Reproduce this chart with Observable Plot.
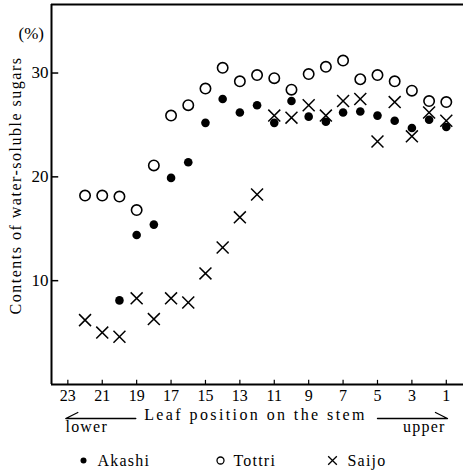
<!DOCTYPE html>
<html>
<head>
<meta charset="utf-8">
<script src="https://cdn.jsdelivr.net/npm/d3@7"></script>
<script src="https://cdn.jsdelivr.net/npm/@observablehq/plot@0.6"></script>
<style>
  html, body { margin: 0; padding: 0; background: #fff; }
</style>
</head>
<body>
<div id="chart"></div>
<script>
// Leaf positions (numbered from the top of the stem)
const leaves = [22, 21, 20, 19, 18, 17, 16, 15, 14, 13, 12, 11, 10, 9, 8, 7, 6, 5, 4, 3, 2, 1];
const akashiLeaves = [20, 19, 18, 17, 16, 15, 14, 13, 12, 11, 10, 9, 8, 7, 6, 5, 4, 3, 2, 1];

// Contents of water-soluble sugars (%)
const akashi = [8.1, 14.4, 15.4, 19.9, 21.4, 25.2, 27.5, 26.2, 26.9, 25.2, 27.3, 25.8, 25.3, 26.2, 26.3, 25.9, 25.4, 24.7, 25.5, 24.8];
const tottri = [18.2, 18.2, 18.1, 16.8, 21.1, 25.9, 26.9, 28.5, 30.5, 29.2, 29.8, 29.5, 28.4, 29.9, 30.6, 31.2, 29.4, 29.8, 29.2, 28.3, 27.3, 27.2];
const saijo = [6.2, 5.0, 4.6, 8.3, 6.3, 8.3, 7.9, 10.7, 13.2, 16.1, 18.3, 25.9, 25.7, 26.9, 25.9, 27.3, 27.5, 23.4, 27.2, 23.9, 26.2, 25.4];

// Tick labels
const xTicks = [23, 21, 19, 17, 15, 13, 11, 9, 7, 5, 3, 1];
const yTicks = [10, 20, 30];

// Axis texts
const yLabel = "Contents of water-soluble sugars";
const yUnit = "(%)";
const xLabel = "Leaf position on the stem";
const lowerLabel = "lower";
const upperLabel = "upper";
const seriesNames = ["Akashi", "Tottri", "Saijo"];

const xDomain = [23.95, 0];
const yDomain = [0, 36.6];

const akashiData = akashiLeaves.map((l, i) => ({leaf: l, value: akashi[i]}));
const tottriData = leaves.map((l, i) => ({leaf: l, value: tottri[i]}));
const saijoData = leaves.map((l, i) => ({leaf: l, value: saijo[i]}));

// Arrow polylines under the axis (leaf units; y offset in value units from the bottom edge)
const lowerArrow = [{x: 22.42, y: 0.58}, {x: 23.12, y: 0}, {x: 19.05, y: 0}];
const upperArrow = [{x: 5.0, y: 0}, {x: 0.93, y: 0}, {x: 1.63, y: 0.58}];

const FONT = "Liberation Serif";
const T = {fill: "#000", fontFamily: FONT};

const plot = Plot.plot({
  width: 463,
  height: 474,
  marginLeft: 51,
  marginRight: 0,
  marginTop: 4,
  marginBottom: 90,
  style: {fontFamily: FONT, fontSize: "16px", background: "#fff", color: "#000"},
  x: {domain: xDomain, axis: null},
  y: {domain: yDomain, axis: null},
  marks: [
    // frame: left, top and bottom edges
    Plot.ruleX([xDomain[0]], {stroke: "#000", strokeWidth: 2}),
    Plot.ruleY([yDomain[0], yDomain[1]], {stroke: "#000", strokeWidth: 2}),
    // inward ticks
    Plot.ruleX(xTicks, {y1: 0, y2: 0.4, stroke: "#000", strokeWidth: 1.2}),
    Plot.ruleY(yTicks, {x1: xDomain[0], x2: xDomain[0] - 0.42, stroke: "#000", strokeWidth: 1.5}),
    // tick labels
    Plot.text(xTicks, {...T, x: d => d, y: 0, text: d => String(d), dy: 11, fontSize: 16}),
    Plot.text(yTicks, {...T, y: d => d, x: xDomain[0], text: d => String(d), dx: -3, textAnchor: "end", fontSize: 17}),
    // data
    Plot.dot(tottriData, {x: "leaf", y: "value", r: 5.2, stroke: "#000", strokeWidth: 1.6, fill: "none"}),
    Plot.dot(akashiData, {x: "leaf", y: "value", r: 4.3, fill: "#000", stroke: "none"}),
    Plot.dot(saijoData, {x: "leaf", y: "value", symbol: "times", r: 5.5, stroke: "#000", strokeWidth: 1.5}),
    // axis labels
    Plot.text([yLabel], {...T, frameAnchor: "left", text: d => d, rotate: -90, textAnchor: "middle", dx: -36, dy: -9, fontSize: 16}),
    Plot.text([yUnit], {...T, frameAnchor: "top-left", text: d => d, textAnchor: "start", lineAnchor: "middle", dx: -33, dy: 29, fontSize: 17}),
    Plot.text([xLabel], {...T, frameAnchor: "bottom", text: d => d, textAnchor: "middle", dx: -2, dy: 35, fontSize: 16}),
    Plot.text([lowerLabel], {...T, frameAnchor: "bottom-left", text: d => d, dx: 14, dy: 47, textAnchor: "start", lineAnchor: "bottom", fontSize: 16}),
    Plot.text([upperLabel], {...T, frameAnchor: "bottom-right", text: d => d, dx: -18, dy: 47, textAnchor: "end", lineAnchor: "bottom", fontSize: 16}),
    Plot.line(lowerArrow, {x: "x", y: "y", dy: 34, stroke: "#000", strokeWidth: 1.3}),
    Plot.line(upperArrow, {x: "x", y: "y", dy: 34, stroke: "#000", strokeWidth: 1.3}),
    // legend
    Plot.dot([0], {frameAnchor: "bottom-left", dx: 32, dy: 76, r: 3, fill: "#000"}),
    Plot.text([seriesNames[0]], {...T, frameAnchor: "bottom-left", text: d => d, dx: 46, dy: 81, textAnchor: "start", lineAnchor: "bottom", fontSize: 16}),
    Plot.dot([0], {frameAnchor: "bottom-left", dx: 169, dy: 76, r: 3.5, stroke: "#000", strokeWidth: 1.3, fill: "none"}),
    Plot.text([seriesNames[1]], {...T, frameAnchor: "bottom-left", text: d => d, dx: 182, dy: 81, textAnchor: "start", lineAnchor: "bottom", fontSize: 16}),
    Plot.dot([0], {frameAnchor: "bottom-left", dx: 281, dy: 76, r: 4, symbol: "times", stroke: "#000", strokeWidth: 1.3}),
    Plot.text([seriesNames[2]], {...T, frameAnchor: "bottom-left", text: d => d, dx: 296, dy: 81, textAnchor: "start", lineAnchor: "bottom", fontSize: 16})
  ]
});

document.getElementById("chart").appendChild(plot);

// letter spacing for the spaced-out labels
d3.select(plot).selectAll("text").each(function () {
  const t = this.textContent;
  if (t === xLabel) d3.select(this).attr("letter-spacing", "2.4px");
  else if (t === yLabel) d3.select(this).attr("letter-spacing", "1.5px");
  else if (t === lowerLabel || t === upperLabel || seriesNames.includes(t)) d3.select(this).attr("letter-spacing", "1.2px");
});
</script>
</body>
</html>
